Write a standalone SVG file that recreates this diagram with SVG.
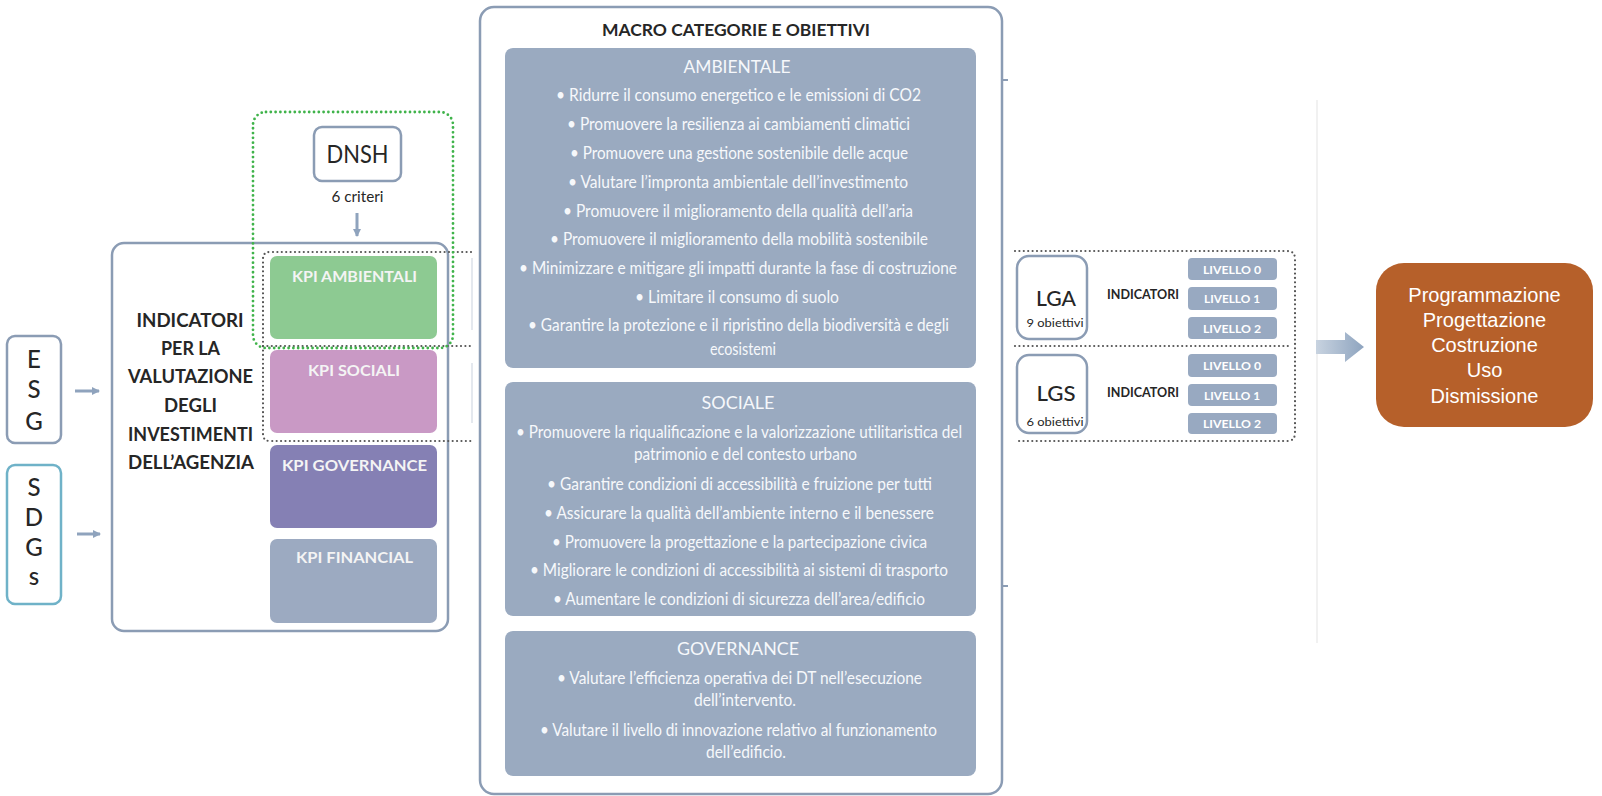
<svg xmlns="http://www.w3.org/2000/svg" width="1602" height="796" viewBox="0 0 1602 796">
<defs>
<style>
.frame{fill:#fff;stroke:#8b9cb4;stroke-width:2.5}
.panel{fill:#9aaac0}
.ptitle{font-family:Lato,"Open Sans",sans-serif;font-size:17px;fill:#f6f8fb;text-anchor:middle}
.bul{font-family:Lato,"Open Sans",sans-serif;font-size:17px;fill:#f6f8fb;text-anchor:middle}
.dark{font-family:Lato,"Open Sans",sans-serif;fill:#262626;text-anchor:middle}
.kpi{font-family:Lato,"Open Sans",sans-serif;font-size:15px;font-weight:bold;fill:#f4f4f4;text-anchor:middle}
.liv{fill:#98a9c1}
.livt{font-family:Lato,"Open Sans",sans-serif;font-size:12px;font-weight:bold;fill:#fff;text-anchor:middle}
.dots{fill:none;stroke:#555;stroke-width:2.2;stroke-dasharray:0 4.4;stroke-linecap:round}
.gdots{fill:none;stroke:#3fb34a;stroke-width:2.8;stroke-dasharray:0 4.8;stroke-linecap:round}
.faint{stroke:#e4e8ee;stroke-width:2;fill:none}
.conn{stroke:#8fa3bd;stroke-width:3;fill:none}
.orange{font-family:"Liberation Sans",Arial,sans-serif;font-size:20px;fill:#fff;text-anchor:middle}
</style>
<marker id="ah" viewBox="0 0 8 8" refX="7" refY="4" markerWidth="8" markerHeight="8" markerUnits="userSpaceOnUse" orient="auto">
<path d="M0,0 L8,4 L0,8 z" fill="#8fa3bd"/>
</marker>
<linearGradient id="bigarrow" x1="0" y1="0" x2="1" y2="0">
<stop offset="0" stop-color="#c8d3e0"/>
<stop offset="1" stop-color="#8ea4bf"/>
</linearGradient>
</defs>
<rect width="1602" height="796" fill="#fff"/>

<g id="background-lines">
<line class="faint" x1="472" y1="258" x2="472" y2="330"/>
<line class="faint" x1="472" y1="363" x2="472" y2="423"/>
<line x1="1317" y1="100" x2="1317" y2="643" stroke="#f1f1f1" stroke-width="2"/>
</g>

<g id="node-esg">
<rect class="frame" x="7" y="336" width="54" height="107" rx="8"/>
<text class="dark" x="34" y="368" font-size="24" font-weight="500">E</text>
<text class="dark" x="34" y="398" font-size="24" font-weight="500">S</text>
<text class="dark" x="34" y="430" font-size="24" font-weight="500">G</text>
</g>

<g id="node-sdgs">
<rect x="7" y="465" width="54" height="139" rx="8" fill="#fff" stroke="#6fb2c8" stroke-width="2.5"/>
<text class="dark" x="34" y="496" font-size="24" font-weight="500">S</text>
<text class="dark" x="34" y="526" font-size="24" font-weight="500">D</text>
<text class="dark" x="34" y="556" font-size="24" font-weight="500">G</text>
<text class="dark" x="34" y="585" font-size="24" font-weight="500">s</text>
</g>

<g id="node-indicatori">
<rect class="frame" x="112" y="243" width="336" height="388" rx="12"/>
<text class="dark" x="190" y="327" font-size="19" font-weight="bold" fill="#2e2e2e" textLength="107" lengthAdjust="spacingAndGlyphs">INDICATORI</text>
<text class="dark" x="190.5" y="355" font-size="19" font-weight="bold" textLength="59" lengthAdjust="spacingAndGlyphs">PER LA</text>
<text class="dark" x="190.5" y="383" font-size="19" font-weight="bold" textLength="125" lengthAdjust="spacingAndGlyphs">VALUTAZIONE</text>
<text class="dark" x="190.5" y="412" font-size="19" font-weight="bold" textLength="53" lengthAdjust="spacingAndGlyphs">DEGLI</text>
<text class="dark" x="190.5" y="441" font-size="19" font-weight="bold" textLength="125" lengthAdjust="spacingAndGlyphs">INVESTIMENTI</text>
<text class="dark" x="191" y="469" font-size="19" font-weight="bold" textLength="126" lengthAdjust="spacingAndGlyphs">DELL’AGENZIA</text>
</g>

<g id="node-kpi-ambientali">
<rect x="270" y="256" width="167" height="83" rx="7" fill="#8dca92"/>
<text class="kpi" x="354.5" y="282" textLength="125" lengthAdjust="spacingAndGlyphs">KPI AMBIENTALI</text>
</g>
<g id="node-kpi-sociali">
<rect x="270" y="350" width="167" height="83" rx="7" fill="#c999c5"/>
<text class="kpi" x="354" y="376" textLength="92" lengthAdjust="spacingAndGlyphs">KPI SOCIALI</text>
</g>
<g id="node-kpi-governance">
<rect x="270" y="445" width="167" height="83" rx="7" fill="#8580b4"/>
<text class="kpi" x="354.5" y="471" textLength="145" lengthAdjust="spacingAndGlyphs">KPI GOVERNANCE</text>
</g>
<g id="node-kpi-financial">
<rect x="270" y="539" width="167" height="84" rx="7" fill="#9caac1"/>
<text class="kpi" x="354.5" y="563" textLength="117" lengthAdjust="spacingAndGlyphs">KPI FINANCIAL</text>
</g>

<g id="group-dotted-left">
<path class="dots" d="M471,252 H270 Q263,252 263,259 V434 Q263,441 270,441 H471"/>
<path class="dots" d="M263,346 H471"/>
</g>

<g id="group-dnsh">
<rect class="gdots" x="253" y="112" width="200" height="236" rx="13"/>
</g>

<g id="node-dnsh">
<rect class="frame" x="314" y="127" width="87" height="54" rx="8"/>
<text class="dark" x="357.5" y="163" font-size="25" textLength="62" lengthAdjust="spacingAndGlyphs">DNSH</text>
<text class="dark" x="357.5" y="202" font-size="15" fill="#555" textLength="52" lengthAdjust="spacingAndGlyphs">6 criteri</text>
</g>

<g id="node-macro">
<rect class="frame" x="480" y="7" width="522" height="787" rx="14"/>
<text class="dark" x="736" y="36" font-size="17" font-weight="bold" fill="#161616" textLength="268" lengthAdjust="spacingAndGlyphs">MACRO CATEGORIE E OBIETTIVI</text>
<line x1="1002" y1="80" x2="1008" y2="80" stroke="#8b9cb4" stroke-width="2"/>
<line x1="1002" y1="586" x2="1008" y2="586" stroke="#8b9cb4" stroke-width="2"/>
</g>

<g id="node-ambientale">
<rect class="panel" x="505" y="48" width="471" height="320" rx="8"/>
<text class="ptitle" x="737" y="73" textLength="107" lengthAdjust="spacingAndGlyphs">AMBIENTALE</text>
<text class="bul" x="738.5" y="101" textLength="365" lengthAdjust="spacingAndGlyphs">•  Ridurre il consumo energetico e le emissioni di CO2</text>
<text class="bul" x="738.5" y="130" textLength="343" lengthAdjust="spacingAndGlyphs">•  Promuovere la resilienza ai cambiamenti climatici</text>
<text class="bul" x="739" y="159" textLength="338" lengthAdjust="spacingAndGlyphs">•  Promuovere una gestione sostenibile delle acque</text>
<text class="bul" x="738" y="188" textLength="340" lengthAdjust="spacingAndGlyphs">•  Valutare l’impronta ambientale dell’investimento</text>
<text class="bul" x="738" y="217" textLength="350" lengthAdjust="spacingAndGlyphs">•  Promuovere il miglioramento della qualità dell’aria</text>
<text class="bul" x="739" y="245" textLength="378" lengthAdjust="spacingAndGlyphs">•  Promuovere il miglioramento della mobilità sostenibile</text>
<text class="bul" x="738" y="274" textLength="438" lengthAdjust="spacingAndGlyphs">•  Minimizzare e mitigare gli impatti durante la fase di costruzione</text>
<text class="bul" x="737" y="303" textLength="204" lengthAdjust="spacingAndGlyphs">•  Limitare il consumo di suolo</text>
<text class="bul" x="738.5" y="331" textLength="421" lengthAdjust="spacingAndGlyphs">•  Garantire la protezione e il ripristino della biodiversità e degli</text>
<text class="bul" x="743" y="355" textLength="66" lengthAdjust="spacingAndGlyphs">ecosistemi</text>
</g>

<g id="node-sociale">
<rect class="panel" x="505" y="382" width="471" height="234" rx="8"/>
<text class="ptitle" x="738" y="409" textLength="73" lengthAdjust="spacingAndGlyphs">SOCIALE</text>
<text class="bul" x="739" y="438" textLength="446" lengthAdjust="spacingAndGlyphs">•  Promuovere la riqualificazione e la valorizzazione utilitaristica del</text>
<text class="bul" x="745.5" y="460" textLength="223" lengthAdjust="spacingAndGlyphs">patrimonio e del contesto urbano</text>
<text class="bul" x="739.5" y="490" textLength="385" lengthAdjust="spacingAndGlyphs">•  Garantire condizioni di accessibilità e fruizione per tutti</text>
<text class="bul" x="739" y="519" textLength="390" lengthAdjust="spacingAndGlyphs">•  Assicurare la qualità dell’ambiente interno e il benessere</text>
<text class="bul" x="739.5" y="548" textLength="375" lengthAdjust="spacingAndGlyphs">•  Promuovere la progettazione e la partecipazione civica</text>
<text class="bul" x="739" y="576" textLength="418" lengthAdjust="spacingAndGlyphs">•  Migliorare le condizioni di accessibilità ai sistemi di trasporto</text>
<text class="bul" x="739" y="605" textLength="372" lengthAdjust="spacingAndGlyphs">•  Aumentare le condizioni di sicurezza dell’area/edificio</text>
</g>

<g id="node-governance">
<rect class="panel" x="505" y="631" width="471" height="145" rx="8"/>
<text class="ptitle" x="738" y="655" textLength="122" lengthAdjust="spacingAndGlyphs">GOVERNANCE</text>
<text class="bul" x="739.5" y="684" textLength="365" lengthAdjust="spacingAndGlyphs">•  Valutare l’efficienza operativa dei DT nell’esecuzione</text>
<text class="bul" x="745" y="706" textLength="102" lengthAdjust="spacingAndGlyphs">dell’intervento.</text>
<text class="bul" x="738.5" y="736" textLength="397" lengthAdjust="spacingAndGlyphs">•  Valutare il livello di innovazione relativo al funzionamento</text>
<text class="bul" x="746" y="758" textLength="80" lengthAdjust="spacingAndGlyphs">dell’edificio.</text>
</g>

<g id="group-dotted-right">
<path class="dots" d="M1015,251 H1287 Q1295,251 1295,259 V433 Q1295,441 1287,441 H1015"/>
<path class="dots" d="M1015,346 H1292"/>
</g>

<g id="node-lga">
<rect class="frame" x="1017" y="256" width="70" height="83" rx="12"/>
<text class="dark" x="1056" y="306" font-size="22" font-weight="500" textLength="40" lengthAdjust="spacingAndGlyphs">LGA</text>
<text class="dark" x="1055" y="327" font-size="12" fill="#555" textLength="57" lengthAdjust="spacingAndGlyphs">9 obiettivi</text>
<text class="dark" x="1143" y="299" font-size="13" font-weight="bold" fill="#3a3a3a" textLength="72" lengthAdjust="spacingAndGlyphs">INDICATORI</text>
<rect class="liv" x="1188" y="258" width="89" height="22" rx="4"/>
<text class="livt" x="1232" y="274" textLength="58" lengthAdjust="spacingAndGlyphs">LIVELLO 0</text>
<rect class="liv" x="1188" y="287" width="89" height="23" rx="4"/>
<text class="livt" x="1232" y="303" textLength="56" lengthAdjust="spacingAndGlyphs">LIVELLO 1</text>
<rect class="liv" x="1188" y="317" width="89" height="22" rx="4"/>
<text class="livt" x="1232" y="333" textLength="58" lengthAdjust="spacingAndGlyphs">LIVELLO 2</text>
</g>

<g id="node-lgs">
<rect class="frame" x="1017" y="355" width="70" height="78" rx="12"/>
<text class="dark" x="1056" y="401" font-size="22" font-weight="500" textLength="39" lengthAdjust="spacingAndGlyphs">LGS</text>
<text class="dark" x="1055" y="426" font-size="12" fill="#555" textLength="57" lengthAdjust="spacingAndGlyphs">6 obiettivi</text>
<text class="dark" x="1143" y="397" font-size="13" font-weight="bold" fill="#3a3a3a" textLength="72" lengthAdjust="spacingAndGlyphs">INDICATORI</text>
<rect class="liv" x="1188" y="354" width="89" height="23" rx="4"/>
<text class="livt" x="1232" y="370" textLength="58" lengthAdjust="spacingAndGlyphs">LIVELLO 0</text>
<rect class="liv" x="1188" y="384" width="89" height="22" rx="4"/>
<text class="livt" x="1232" y="400" textLength="56" lengthAdjust="spacingAndGlyphs">LIVELLO 1</text>
<rect class="liv" x="1188" y="413" width="89" height="21" rx="4"/>
<text class="livt" x="1232" y="428" textLength="58" lengthAdjust="spacingAndGlyphs">LIVELLO 2</text>
</g>

<g id="node-fasi">
<rect x="1376" y="263" width="217" height="164" rx="28" fill="#b6602a"/>
<text class="orange" x="1484.5" y="302">Programmazione</text>
<text class="orange" x="1484.5" y="327">Progettazione</text>
<text class="orange" x="1484.5" y="352">Costruzione</text>
<text class="orange" x="1484.5" y="377">Uso</text>
<text class="orange" x="1484.5" y="403">Dismissione</text>
</g>

<g id="connectors">
<line class="conn" x1="75" y1="391" x2="99" y2="391" marker-end="url(#ah)"/>
<line class="conn" x1="77" y1="534" x2="100" y2="534" marker-end="url(#ah)"/>
<line class="conn" x1="357" y1="213" x2="357" y2="236" marker-end="url(#ah)"/>
<path d="M1316,340 H1345 V332 L1364,347 L1345,362 V354 H1316 Z" fill="url(#bigarrow)"/>
</g>
</svg>
